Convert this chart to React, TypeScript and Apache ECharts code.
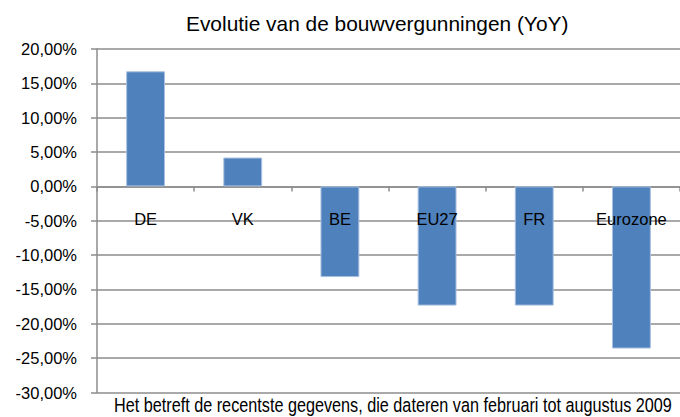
import React, { useEffect, useRef } from "react";
import * as echarts from "echarts";

const categories = ["DE", "VK", "BE", "EU27", "FR", "Eurozone"];
const values = [16.75, 4.2, -13.2, -17.35, -17.35, -23.6];
const titleText = "Evolutie van de bouwvergunningen (YoY)";
const footnote = "Het betreft de recentste gegevens, die dateren van februari tot augustus 2009";

export default function App() {
  const ref = useRef<HTMLDivElement>(null);
  useEffect(() => {
    if (!ref.current) return;
    const chart = echarts.init(ref.current, null, { renderer: "svg" });
    const axisGray = "#8c8c8c";
    const labelFont = "Liberation Sans, Arial, sans-serif";
    chart.setOption({
      animation: false,
      backgroundColor: "#ffffff",
      graphic: [
        {
          type: "text",
          x: 186,
          y: 23,
          scaleX: 0.995,
          style: {
            text: titleText,
            fontFamily: labelFont,
            fontSize: 21,
            fill: "#000",
            align: "left",
            verticalAlign: "middle",
          },
        },
        {
          type: "text",
          x: 114,
          y: 405,
          scaleX: 0.832,
          style: {
            text: footnote,
            fontFamily: labelFont,
            fontSize: 19.5,
            fill: "#000",
            align: "left",
            verticalAlign: "middle",
          },
        },
      ],
      grid: { left: 97, right: 0, top: 49, bottom: 24.5, containLabel: false, outerBoundsMode: "none" },
      xAxis: [
        {
          type: "category",
          data: categories,
          axisLine: { onZero: true, lineStyle: { color: axisGray, width: 1.5 } },
          axisTick: { show: true, length: 5, lineStyle: { color: axisGray, width: 1.5 } },
          axisLabel: { show: false },
          splitLine: { show: false },
        },
        {
          type: "category",
          data: categories,
          position: "bottom",
          offset: -206.5,
          z: 10,
          axisLine: { show: false, onZero: false },
          axisTick: { show: false },
          axisLabel: {
            margin: 24,
            fontFamily: labelFont,
            fontSize: 16.5,
            color: "#000",
          },
          splitLine: { show: false },
        },
      ],
      yAxis: {
        type: "value",
        min: -30,
        max: 20,
        interval: 5,
        axisLine: { show: true, lineStyle: { color: axisGray, width: 1.5 } },
        axisTick: { show: true, length: 6, lineStyle: { color: axisGray, width: 1.5 } },
        axisLabel: {
          margin: 20,
          fontFamily: labelFont,
          fontSize: 16.5,
          color: "#000",
          formatter: (v: number) => v.toFixed(2).replace(".", ",") + "%",
        },
        splitLine: { show: true, lineStyle: { color: axisGray, width: 1.5 } },
      },
      series: [
        {
          type: "bar",
          xAxisIndex: 0,
          data: values,
          barWidth: "40%",
          itemStyle: { color: "#4f81bd", borderColor: "#a9c0e0", borderWidth: 1 },
          z: 2,
        },
      ],
    });
    return () => chart.dispose();
  }, []);
  return <div ref={ref} style={{ width: 680, height: 417, position: "absolute", left: 0, top: 0 }} />;
}
